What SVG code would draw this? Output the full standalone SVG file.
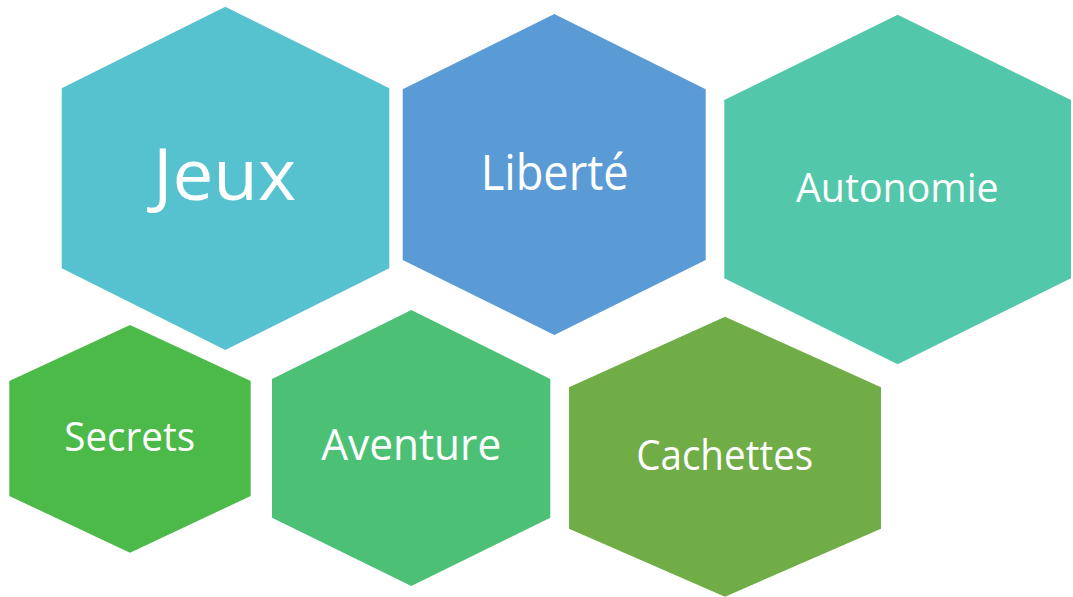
<svg xmlns="http://www.w3.org/2000/svg" width="1073" height="597" viewBox="0 0 1073 597">
<style>
.lbl{font-family:"Open Sans","Noto Sans",sans-serif;fill:#FFFFFF;text-anchor:middle}
</style>
<rect width="1073" height="597" fill="#FFFFFF"/>
<g id="connectors"></g>
<g id="node-jeux">
<polygon points="225.3,6.7 389.3,88.3 389.3,268.3 225.3,350 61.7,268.3 61.7,88.3" fill="#56C2CF"/>
<text class="lbl" x="224.5" y="200" font-size="71" textLength="143" lengthAdjust="spacingAndGlyphs">Jeux</text>
</g>
<g id="node-liberte">
<polygon points="554.3,14 705.7,89.3 705.7,260 554.3,335 402.7,260 402.7,89.3" fill="#5B9BD5"/>
<text class="lbl" x="554.7" y="190" font-size="50" textLength="148" lengthAdjust="spacingAndGlyphs">Liberté</text>
</g>
<g id="node-autonomie">
<polygon points="897.7,14.7 1071,100 1071,278.3 897.7,364.3 724.3,278.3 724.3,100" fill="#52C7A9"/>
<text class="lbl" x="897.3" y="201.7" font-size="40.6" textLength="202.7" lengthAdjust="spacingAndGlyphs">Autonomie</text>
</g>
<g id="node-secrets">
<polygon points="130,325 250.7,381 250.7,496 130,552.7 9.3,496 9.3,381" fill="#4CBA48"/>
<text class="lbl" x="129.7" y="451" font-size="40.6" textLength="130.7" lengthAdjust="spacingAndGlyphs">Secrets</text>
</g>
<g id="node-aventure">
<polygon points="411.3,310 550.3,379 550.3,517.7 411.3,586 272,517.7 272,379" fill="#4CC175"/>
<text class="lbl" x="411.2" y="460" font-size="44.4" textLength="180" lengthAdjust="spacingAndGlyphs">Aventure</text>
</g>
<g id="node-cachettes">
<polygon points="725,316.7 881,387.3 881,528.7 725,596.7 569,528.7 569,387.3" fill="#70AD47"/>
<text class="lbl" x="724.7" y="470" font-size="42" textLength="177" lengthAdjust="spacingAndGlyphs">Cachettes</text>
</g>
</svg>
